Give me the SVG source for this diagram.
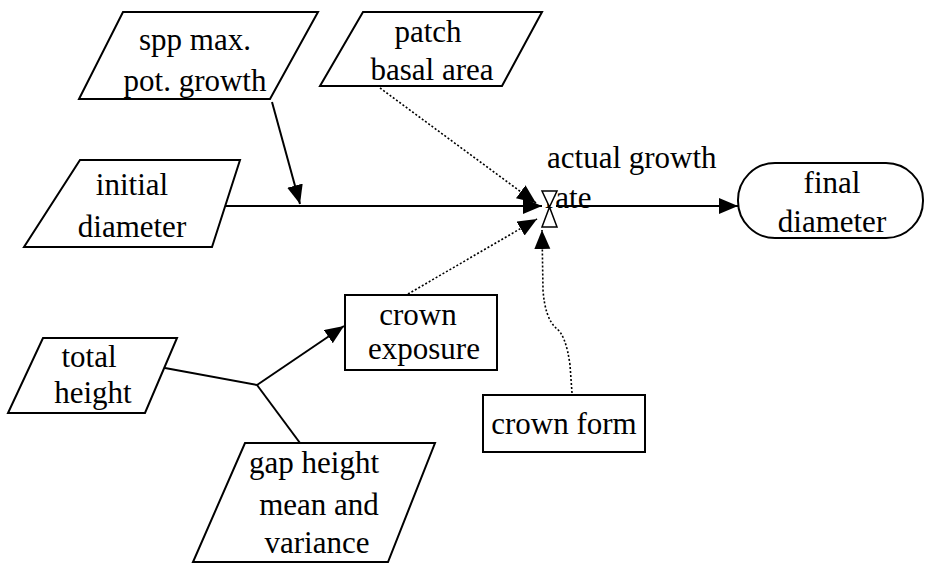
<svg xmlns="http://www.w3.org/2000/svg" width="928" height="573" viewBox="0 0 928 573">
<defs>
<marker id="ah" markerUnits="userSpaceOnUse" markerWidth="22" markerHeight="18" refX="19" refY="8" orient="auto">
<path d="M0,0 L19,8 L0,16 z" fill="#000"/>
</marker>
<style>
.n{fill:#fff;stroke:#000;stroke-width:2}
.t{font-family:"Liberation Serif","Times New Roman",Tinos,"Nimbus Roman","DejaVu Serif",serif;font-size:31px;fill:#000;text-anchor:middle}
.s{fill:none;stroke:#000;stroke-width:2}
.d{fill:none;stroke:#000;stroke-width:1.6;stroke-dasharray:2 2}
</style>
</defs>
<rect width="928" height="573" fill="#fff"/>
<g id="connectors">
<line class="s" x1="213" y1="206" x2="542" y2="206" marker-end="url(#ah)"/>
<line class="s" x1="272" y1="102" x2="300" y2="204" marker-end="url(#ah)"/>
<line class="s" x1="556" y1="206" x2="738" y2="206" marker-end="url(#ah)"/>
<line class="d" x1="380" y1="88" x2="536" y2="203" marker-end="url(#ah)"/>
<line class="d" x1="408" y1="294" x2="537" y2="219" marker-end="url(#ah)"/>
<path class="d" d="M572,393 L570,365 Q566,335 556,328 Q545,318 543,290 L542,230" marker-end="url(#ah)"/>
<line class="s" x1="165" y1="368" x2="257" y2="385"/>
<line class="s" x1="300" y1="443" x2="257" y2="385"/>
<line class="s" x1="257" y1="385" x2="344" y2="326" marker-end="url(#ah)"/>
</g>
<g id="spp">
<polygon class="n" points="123,12 318,12 270,99 79,99"/>
<text class="t" x="195" y="50">spp max.</text>
<text class="t" x="195" y="91">pot. growth</text>
</g>
<g id="patch">
<polygon class="n" points="363,12 542,12 502,86 320,86"/>
<text class="t" x="428" y="42">patch</text>
<text class="t" x="432" y="80">basal area</text>
</g>
<g id="initial">
<polygon class="n" points="80,160 240,160 212,247 24,247"/>
<text class="t" x="132" y="195">initial</text>
<text class="t" x="132" y="237">diameter</text>
</g>
<g id="final">
<rect class="n" x="738" y="163" width="185" height="75" rx="37" ry="37"/>
<text class="t" x="832" y="193">final</text>
<text class="t" x="832" y="232">diameter</text>
</g>
<g id="exposure">
<rect class="n" x="345" y="295" width="152" height="75"/>
<text class="t" x="418" y="325">crown</text>
<text class="t" x="424" y="359">exposure</text>
</g>
<g id="form">
<rect class="n" x="483" y="395" width="162" height="57"/>
<text class="t" x="564" y="434">crown form</text>
</g>
<g id="total">
<polygon class="n" points="43,338 177,338 145,413 8,413"/>
<text class="t" x="89" y="367">total</text>
<text class="t" x="93" y="403">height</text>
</g>
<g id="gap">
<polygon class="n" points="245,443 435,443 388,562 193,562"/>
<text class="t" x="314" y="473">gap height</text>
<text class="t" x="319" y="515">mean and</text>
<text class="t" x="317" y="553">variance</text>
</g>
<g id="rate">
<text class="t" x="547" y="168" style="text-anchor:start">actual growth</text>
<text class="t" x="545" y="208" style="text-anchor:start">rate</text>
<polygon fill="#fff" stroke="#000" stroke-width="1.5" points="542,191 557,191 549.5,207 557,227 542,227 549.5,207"/>
</g>
</svg>
